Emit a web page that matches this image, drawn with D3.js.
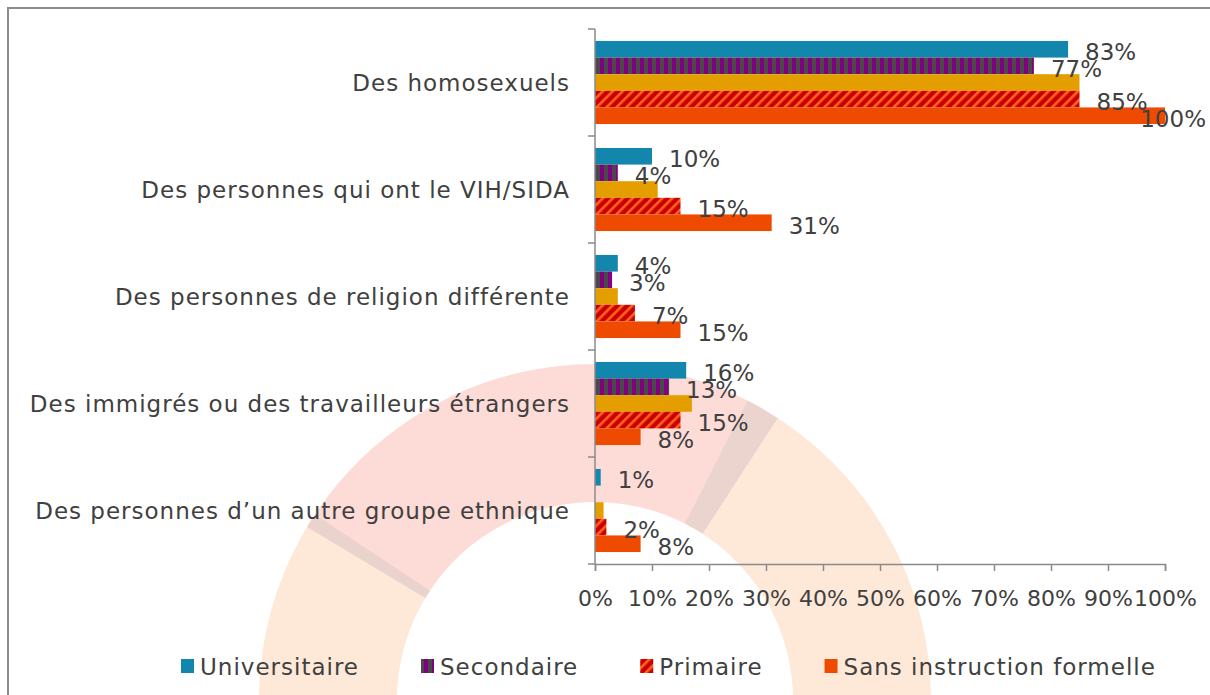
<!DOCTYPE html>
<html><head><meta charset="utf-8">
<script src="https://cdn.jsdelivr.net/npm/d3@7"></script>
<style>html,body{margin:0;padding:0;background:#fff;overflow:hidden;} svg{display:block;}</style>
</head><body>
<script>
// ---- data ----
const categories = [
  "Des homosexuels",
  "Des personnes qui ont le VIH/SIDA",
  "Des personnes de religion différente",
  "Des immigrés ou des travailleurs étrangers",
  "Des personnes d\u2019un autre groupe ethnique"
];
const seriesNames = ["Universitaire", "Secondaire", "Autre", "Primaire", "Sans instruction formelle"];
const universitaire = [83, 10, 4, 16, 1];
const secondaire = [77, 4, 3, 13, 0];
const autre = [85, 11, 4, 17, 1.5];
const primaire = [85, 15, 7, 15, 2];
const sansInstruction = [100, 31, 15, 8, 8];
const xTicks = [0, 10, 20, 30, 40, 50, 60, 70, 80, 90, 100];
const legendNames = ["Universitaire", "Secondaire", "Primaire", "Sans instruction formelle"];
const labelledSeries = ["Universitaire", "Secondaire", "Primaire", "Sans instruction formelle"];

const seriesValues = [universitaire, secondaire, autre, primaire, sansInstruction];

// ---- layout ----
const W = 1210, H = 695;
const FONT = "'DejaVu Sans', sans-serif";
const TXT = "#404040";
const AXIS = "#8a8a8a";

const svg = d3.select("body").append("svg").attr("width", W).attr("height", H);
const defs = svg.append("defs");

// patterns
const pSec = defs.append("pattern").attr("id", "pSec").attr("patternUnits", "userSpaceOnUse")
  .attr("width", 8).attr("height", 8);
pSec.append("rect").attr("width", 8).attr("height", 8).attr("fill", "#4a4a4a");
pSec.append("rect").attr("width", 4).attr("height", 8).attr("fill", "#800080");

const pPri = defs.append("pattern").attr("id", "pPri").attr("patternUnits", "userSpaceOnUse")
  .attr("width", 7).attr("height", 7).attr("patternTransform", "rotate(45)");
pPri.append("rect").attr("width", 7).attr("height", 7).attr("fill", "#cc0000");
pPri.append("rect").attr("width", 2.6).attr("height", 7).attr("fill", "#ff6420");

const fills = {
  "Universitaire": "#1286ad",
  "Secondaire": "url(#pSec)",
  "Autre": "#e59e00",
  "Primaire": "url(#pPri)",
  "Sans instruction formelle": "#ef4b00"
};

svg.append("rect").attr("width", W).attr("height", H).attr("fill", "#fff");

// watermark (faint logo ring)
const wm = svg.append("g").attr("transform", "translate(595,700)");
const ring = d3.arc().innerRadius(198).outerRadius(336);
const deg = d => d * Math.PI / 180;
wm.append("path").attr("d", ring({startAngle: deg(-112), endAngle: deg(-58)})).attr("fill", "#fee8d8");
wm.append("path").attr("d", ring({startAngle: deg(-58), endAngle: deg(30)})).attr("fill", "#fddbd6");
wm.append("path").attr("d", ring({startAngle: deg(27), endAngle: deg(33)})).attr("fill", "#ecd4ce");
wm.append("path").attr("d", ring({startAngle: deg(33), endAngle: deg(112)})).attr("fill", "#fee8d8");
wm.append("path").attr("d", ring({startAngle: deg(-59), endAngle: deg(-56.5)})).attr("fill", "#ead3cd");

// frame
svg.append("rect").attr("x", 8).attr("y", 8).attr("width", W + 10).attr("height", H + 10)
  .attr("fill", "none").attr("stroke", "#8c8c8c").attr("stroke-width", 2);

// scales
const x = d3.scaleLinear().domain([0, 100]).range([595, 1165]);
const y = d3.scaleBand().domain(categories).range([29, 564]).padding(0);
const yi = d3.scaleBand().domain(seriesNames).range([0, y.bandwidth()]).paddingInner(0).paddingOuter(0.72);

// bars
const groups = svg.append("g").selectAll("g").data(categories).join("g")
  .attr("transform", d => `translate(0,${y(d)})`);

groups.selectAll("rect").data((c, ci) => seriesNames.map((s, si) => ({s, v: seriesValues[si][ci]})))
  .join("rect")
  .attr("x", x(0))
  .attr("y", d => yi(d.s))
  .attr("width", d => x(d.v) - x(0))
  .attr("height", yi.bandwidth())
  .attr("fill", d => fills[d.s]);

// axes
const ya = svg.append("g").attr("transform", `translate(${x(0)},0)`);
ya.append("line").attr("x1", 0).attr("x2", 0).attr("y1", y.range()[0]).attr("y2", y.range()[1])
  .attr("stroke", AXIS).attr("stroke-width", 1.5);
const boundaries = categories.map(c => y(c)).concat([y.range()[1]]);
ya.selectAll("line.tk").data(boundaries).join("line").attr("class", "tk")
  .attr("x1", -7).attr("x2", 0).attr("y1", d => d).attr("y2", d => d)
  .attr("stroke", AXIS).attr("stroke-width", 1.5);

svg.append("g").selectAll("text").data(categories).join("text")
  .attr("x", x(0) - 25)
  .attr("y", d => y(d) + y.bandwidth() / 2)
  .attr("text-anchor", "end").attr("dominant-baseline", "central")
  .attr("font-family", FONT).attr("font-size", 23).attr("letter-spacing", 1).attr("fill", TXT)
  .text(d => d);

const xAxis = d3.axisBottom(x).tickValues(xTicks).tickSize(7).tickFormat(d => d + "%");
const xa = svg.append("g").attr("transform", `translate(0,${y.range()[1]})`).call(xAxis);
xa.select(".domain").attr("stroke", AXIS).attr("stroke-width", 1.5);
xa.selectAll(".tick line").attr("stroke", AXIS).attr("stroke-width", 1.5);
xa.selectAll(".tick text").attr("font-family", FONT).attr("font-size", 22).attr("fill", TXT)
  .attr("y", 34).attr("dy", "0.35em");

// data labels
const lab = svg.append("g");
categories.forEach((c, ci) => {
  seriesNames.forEach((s, si) => {
    const v = seriesValues[si][ci];
    if (!labelledSeries.includes(s) || v <= 0) return;
    const t = lab.append("text")
      .attr("y", y(c) + yi(s) + yi.bandwidth() / 2 + 3)
      .attr("dominant-baseline", "central")
      .attr("font-family", FONT).attr("font-size", 23).attr("fill", TXT)
      .text(Math.round(v) + "%");
    const w = t.node().getComputedTextLength();
    let lx = x(v) + 17;
    if (lx + w > 1206) lx = 1206 - w;
    t.attr("x", lx);
  });
});

// legend
const leg = svg.append("g");
let lx = 181;
legendNames.forEach(n => {
  leg.append("rect").attr("x", lx).attr("y", 659).attr("width", 13).attr("height", 14)
    .attr("fill", fills[n]);
  const t = leg.append("text").attr("x", lx + 19).attr("y", 667).attr("dominant-baseline", "central")
    .attr("font-family", FONT).attr("font-size", 23).attr("letter-spacing", 1).attr("fill", TXT).text(n);
  lx = lx + 19 + t.node().getComputedTextLength() + 62;
});
</script>
</body></html>
